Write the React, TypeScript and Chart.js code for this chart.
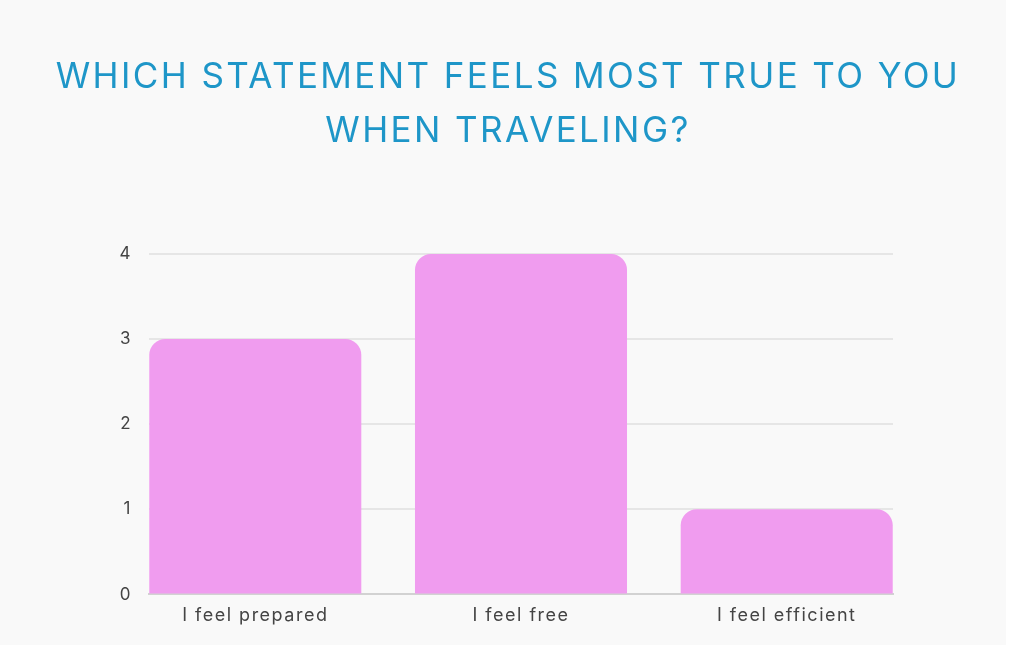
import React, { useEffect, useRef } from "react";
import { Chart, registerables } from "chart.js";

Chart.register(...registerables);

const titleLines = ["WHICH STATEMENT FEELS MOST TRUE TO YOU", "WHEN TRAVELING?"];
const categories = ["I feel prepared", "I feel free", "I feel efficient"];
const responses = [3, 4, 1];
const yTicks = [0, 1, 2, 3, 4];

const spacingPlugin = {
  id: "letterSpacing",
  beforeDraw(chart: any) {
    chart.ctx.letterSpacing = "2.4px";
  },
  beforeDatasetsDraw(chart: any) {
    chart.ctx.letterSpacing = "1.5px";
  },
  afterDraw(chart: any) {
    chart.ctx.letterSpacing = "0px";
  },
};

export default function App() {
  const ref = useRef<HTMLCanvasElement | null>(null);
  useEffect(() => {
    if (!ref.current) return;
    const points = responses.map((v, i) => ({ x: i, y: v }));
    const chart = new Chart(ref.current, {
      type: "bar",
      data: {
        datasets: [
          {
            data: points as any,
            xAxisID: "x",
            yAxisID: "y",
            backgroundColor: "#f09cef",
            borderRadius: 16,
            borderSkipped: "start",
            categoryPercentage: 1,
            barPercentage: 0.798,
          },
        ],
      },
      plugins: [spacingPlugin],
      options: {
        responsive: false,
        animation: false,
        layout: { padding: { left: 10, right: 0, top: 0, bottom: 9 } },
        plugins: {
          legend: { display: false },
          tooltip: { enabled: false },
          title: {
            display: true,
            text: titleLines,
            color: "#1e96c8",
            font: { family: "Inter", size: 35, weight: "normal", lineHeight: "54px" },
            padding: { top: 50, bottom: 96 },
          },
        },
        scales: {
          x: {
            type: "linear",
            position: "bottom",
            min: -0.4,
            max: 2.4,
            offset: false,
            afterBuildTicks: (axis: any) => {
              axis.ticks = categories.map((_, i) => ({ value: i }));
            },
            grid: { display: false, drawTicks: false, offset: false },
            border: { display: true, color: "#d2d2d2", width: 2 },
            ticks: {
              z: 1,
              color: "#444444",
              font: { family: "Inter", size: 18 },
              padding: 10,
              maxRotation: 0,
              autoSkip: false,
              callback: (v: any) => categories[Number(v)] ?? "",
            },
          },
          y: {
            position: "left",
            min: 0,
            max: 4,
            afterBuildTicks: (axis: any) => {
              axis.ticks = yTicks.map((v) => ({ value: v }));
            },
            afterFit: (axis: any) => {
              axis.width = 139;
            },
            grid: { color: "#e6e6e6", lineWidth: 2, drawTicks: false },
            border: { display: false },
            ticks: { z: 1, color: "#444444", font: { family: "Inter", size: 17 }, padding: 17 },
          },
          yRight: {
            type: "linear",
            position: "right",
            display: true,
            afterFit: (axis: any) => {
              axis.width = 113;
            },
            grid: { display: false, drawTicks: false },
            border: { display: false },
            ticks: { display: false },
          },
        },
      },
    } as any);
    return () => chart.destroy();
  }, []);
  return (
    <div style={{ position: "absolute", left: 0, top: 0, width: 1006, height: 645, background: "#f9f9f9" }}>
      <canvas ref={ref} width={1006} height={645} style={{ display: "block" }} />
    </div>
  );
}
